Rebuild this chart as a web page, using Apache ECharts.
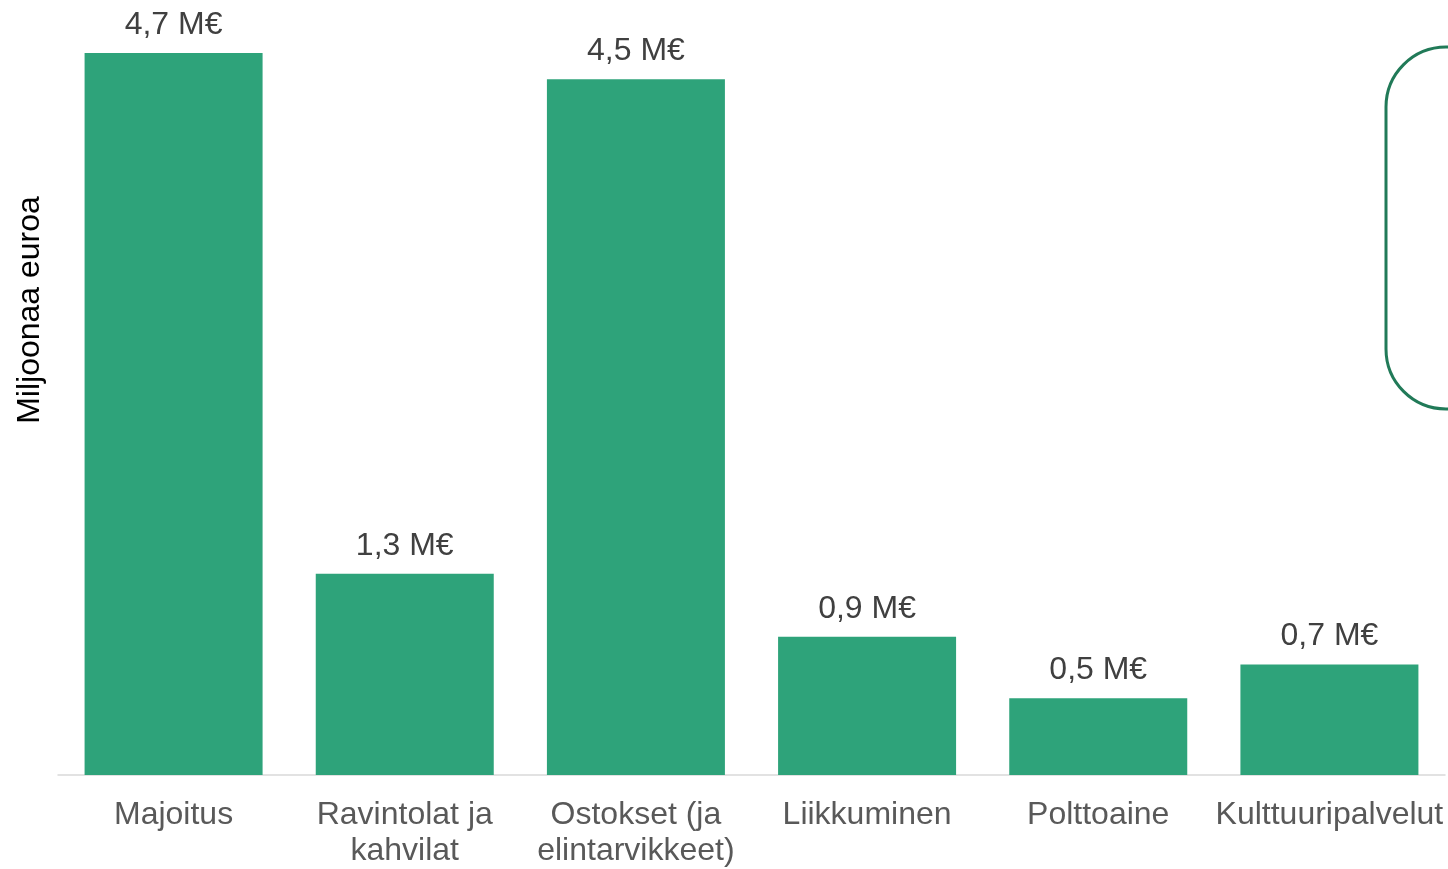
<!DOCTYPE html>
<html>
<head>
<meta charset="utf-8">
<script src="https://cdn.jsdelivr.net/npm/echarts@6/dist/echarts.min.js"></script>
<style>
  html, body { margin: 0; padding: 0; background: #ffffff; }
  #main { width: 1448px; height: 869px; }
</style>
</head>
<body>
<div id="main"></div>
<script>
// categories and values (million euros)
const categories = ['Majoitus', 'Ravintolat ja\nkahvilat', 'Ostokset (ja\nelintarvikkeet)', 'Liikkuminen', 'Polttoaine', 'Kulttuuripalvelut'];
const values = [4.70, 1.31, 4.53, 0.90, 0.50, 0.72];
const yAxisName = 'Miljoonaa euroa';

const FONT = '"Liberation Sans", Arial, sans-serif';

const chart = echarts.init(document.getElementById('main'));

chart.setOption({
    animation: false,
    backgroundColor: '#ffffff',
    grid: { left: 58, right: 3, top: 7, bottom: 90, containLabel: false },
    xAxis: {
        type: 'category',
        data: categories,
        axisLine: { lineStyle: { color: '#d9d9d9', width: 1.5 } },
        axisTick: { show: false },
        axisLabel: {
            interval: 0,
            margin: 22,
            fontFamily: FONT,
            fontSize: 32,
            lineHeight: 36,
            color: '#595959'
        }
    },
    yAxis: {
        type: 'value',
        min: 0,
        max: 5,
        show: false
    },
    series: [{
        type: 'bar',
        data: values,
        barWidth: 178,
        itemStyle: { color: '#2ea37a' },
        label: {
            show: true,
            position: 'top',
            distance: 12,
            fontFamily: FONT,
            fontSize: 32,
            color: '#404040',
            formatter: (p) => p.value.toFixed(1).replace('.', ',') + ' M€'
        }
    }],
    graphic: [
        {
            type: 'text',
            x: 30,
            y: 310,
            rotation: Math.PI / 2,
            style: {
                text: yAxisName,
                fontFamily: FONT,
                fontSize: 32,
                fill: '#000000',
                align: 'center',
                verticalAlign: 'middle'
            }
        },
        {
            type: 'rect',
            shape: { x: 1386, y: 47, width: 200, height: 362, r: 60 },
            style: { fill: 'none', stroke: '#217a58', lineWidth: 3 }
        }
    ]
});
</script>
</body>
</html>
